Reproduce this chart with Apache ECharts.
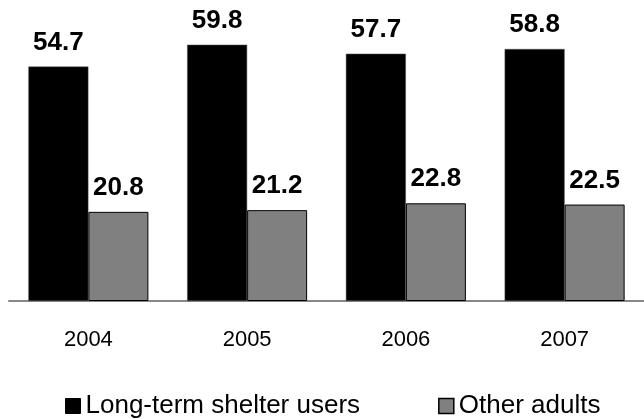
<!DOCTYPE html>
<html>
<head>
<meta charset="utf-8">
<script src="https://cdn.jsdelivr.net/npm/echarts@6/dist/echarts.min.js"></script>
<style>
  html, body { margin: 0; padding: 0; background: #fff; }
  #chart { width: 644px; height: 419px; }
</style>
</head>
<body>
<div id="chart"></div>
<script>
// Years on the category axis
var years = ['2004', '2005', '2006', '2007'];
// Series names
var seriesNames = ['Long-term shelter users', 'Other adults'];
// Values per year
var longTermUsers = [54.7, 59.8, 57.7, 58.8];
var otherAdults = [20.8, 21.2, 22.8, 22.5];

var FONT = 'Liberation Sans, Arial, sans-serif';

var chart = echarts.init(document.getElementById('chart'), null, { renderer: 'canvas' });

var valueLabel = {
  show: true,
  position: 'top',
  distance: 11,
  color: '#000',
  fontFamily: FONT,
  fontWeight: 'bold',
  fontSize: 26,
  formatter: function (p) { return p.value.toFixed(1); }
};

chart.setOption({
  animation: false,
  backgroundColor: '#fff',
  grid: { left: 9, top: 1, width: 643, height: 300, containLabel: false },
  legend: {
    left: 60,
    top: 388,
    itemWidth: 15,
    itemHeight: 15,
    itemGap: 78,
    textStyle: { fontFamily: FONT, fontSize: 26, color: '#000' },
    data: [
      { name: seriesNames[0], icon: 'rect', itemStyle: { color: '#000', borderColor: '#000', borderWidth: 1 } },
      { name: seriesNames[1], icon: 'rect', itemStyle: { color: '#808080', borderColor: '#000', borderWidth: 1.5 } }
    ]
  },
  xAxis: {
    type: 'category',
    data: years,
    axisLine: { show: true, lineStyle: { color: '#888', width: 2 } },
    axisTick: { show: false },
    axisLabel: { margin: 28, fontFamily: FONT, fontSize: 22, color: '#000' }
  },
  yAxis: {
    type: 'value',
    min: 0,
    max: 70,
    show: false,
    splitLine: { show: false }
  },
  series: [
    {
      name: seriesNames[0],
      type: 'bar',
      data: longTermUsers,
      barWidth: 60,
      barGap: '0%',
      itemStyle: { color: '#000', borderColor: '#555', borderWidth: 0.5 },
      label: valueLabel
    },
    {
      name: seriesNames[1],
      type: 'bar',
      data: otherAdults,
      barWidth: 60,
      barGap: '0%',
      itemStyle: { color: '#808080', borderColor: '#000', borderWidth: 1 },
      label: valueLabel
    }
  ]
});
</script>
</body>
</html>
